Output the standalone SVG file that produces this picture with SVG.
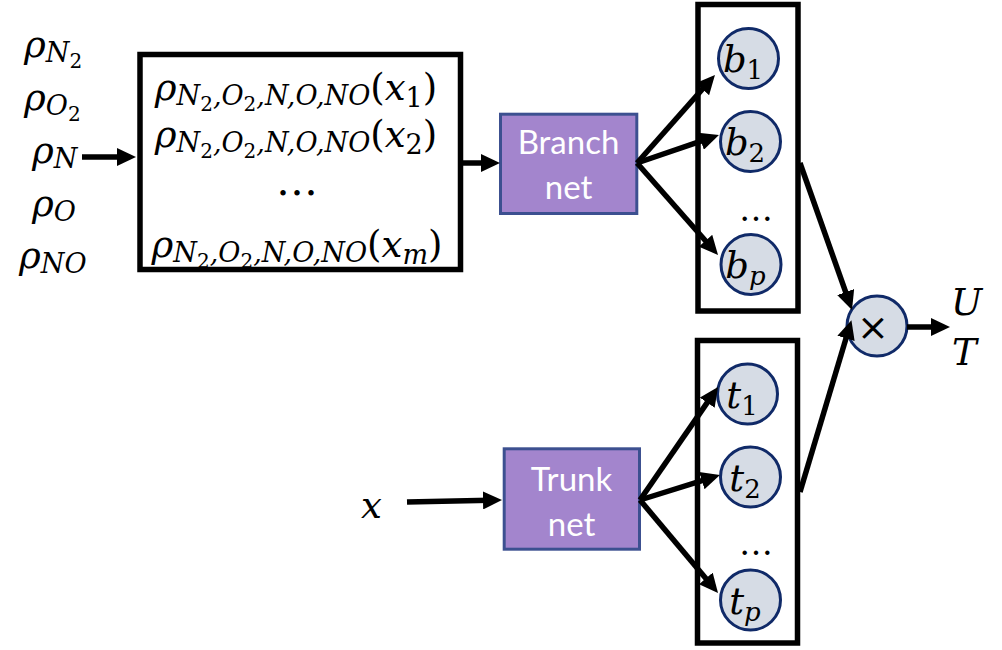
<svg xmlns="http://www.w3.org/2000/svg" width="1002" height="650" viewBox="0 0 1002 650">
<defs>
<style>
.m{font-family:"DejaVu Serif",serif;font-style:italic;font-size:37px;fill:#000}
.s{font-size:27px}
.ss{font-size:20px}
.up{font-style:normal}
.c{font-family:"DejaVu Serif",serif;font-style:italic;font-size:37px;fill:#000}
.cs{font-size:26px;font-style:normal}
.cp{font-size:26px}
.dots{font-family:"DejaVu Serif",serif;fill:#000}
.net{fill:#a385cd;stroke:#3c5090;stroke-width:3}
.nt{font-family:Lato,"Open Sans",sans-serif;font-size:33px;fill:#fff;text-anchor:middle}
.frame{fill:none;stroke:#000;stroke-width:5.5}
.node{fill:#d6dce5;stroke:#102a68;stroke-width:3}
.arr{stroke:#000;stroke-width:5.5;fill:none;marker-end:url(#ah)}
</style>
<marker id="ah" markerUnits="userSpaceOnUse" markerWidth="19" markerHeight="18" refX="7" refY="9" orient="auto">
<path d="M0,0 L19,9 L0,18 z" fill="#000"/>
</marker>
</defs>

<g id="inputs">
<text class="m" x="24" y="57">ρ<tspan class="s" dy="5">N</tspan><tspan class="ss up" dy="6">2</tspan></text>
<text class="m" x="24" y="110">ρ<tspan class="s" dy="5">O</tspan><tspan class="ss up" dy="6">2</tspan></text>
<text class="m" x="32" y="163">ρ<tspan class="s" dy="5">N</tspan></text>
<text class="m" x="32" y="216">ρ<tspan class="s" dy="5">O</tspan></text>
<text class="m" x="19" y="268">ρ<tspan class="s" dy="5">NO</tspan></text>
</g>

<g id="sample-box">
<rect class="frame" x="140" y="54.5" width="320.5" height="215"/>
<text class="m" x="296" y="100" text-anchor="middle">ρ<tspan class="s" dy="5">N</tspan><tspan class="ss up" dy="6">2</tspan><tspan class="s" dy="-6">,O</tspan><tspan class="ss up" dy="6">2</tspan><tspan class="s" dy="-6">,N,O,NO</tspan><tspan class="up" dy="-5">(</tspan>x<tspan class="s up" dy="7">1</tspan><tspan class="up" dy="-7">)</tspan></text>
<text class="m" x="296" y="147" text-anchor="middle">ρ<tspan class="s" dy="5">N</tspan><tspan class="ss up" dy="6">2</tspan><tspan class="s" dy="-6">,O</tspan><tspan class="ss up" dy="6">2</tspan><tspan class="s" dy="-6">,N,O,NO</tspan><tspan class="up" dy="-5">(</tspan>x<tspan class="s up" dy="7">2</tspan><tspan class="up" dy="-7">)</tspan></text>
<text class="dots" x="297" y="195" font-size="42" text-anchor="middle">…</text>
<text class="m" x="297" y="257" text-anchor="middle">ρ<tspan class="s" dy="5">N</tspan><tspan class="ss up" dy="6">2</tspan><tspan class="s" dy="-6">,O</tspan><tspan class="ss up" dy="6">2</tspan><tspan class="s" dy="-6">,N,O,NO</tspan><tspan class="up" dy="-5">(</tspan>x<tspan class="s" dy="7">m</tspan><tspan class="up" dy="-7">)</tspan></text>
</g>

<g id="branch-net">
<rect class="net" x="500.5" y="114.2" width="136.3" height="99.3"/>
<text class="nt" x="568.5" y="154">Branch</text>
<text class="nt" x="568.5" y="199">net</text>
</g>

<g id="trunk-input">
<text class="m" x="361" y="518" font-size="39">x</text>
</g>

<g id="trunk-net">
<rect class="net" x="504.2" y="448.8" width="135.3" height="100.4"/>
<text class="nt" x="571.5" y="491">Trunk</text>
<text class="nt" x="571.5" y="536">net</text>
</g>

<g id="branch-outputs">
<rect class="frame" x="698" y="4.5" width="100" height="306.5"/>
<circle class="node" cx="748.5" cy="58.5" r="30"/>
<text class="c" x="743" y="72" text-anchor="middle">b<tspan class="cs" dy="7">1</tspan></text>
<circle class="node" cx="750.5" cy="141.5" r="30"/>
<text class="c" x="745" y="155" text-anchor="middle">b<tspan class="cs" dy="7">2</tspan></text>
<text class="dots" x="756" y="221" font-size="34" text-anchor="middle">…</text>
<circle class="node" cx="751" cy="264.5" r="30"/>
<text class="c" x="745.5" y="278" text-anchor="middle">b<tspan class="cp" dy="7">p</tspan></text>
</g>

<g id="trunk-outputs">
<rect class="frame" x="697.5" y="340.5" width="100" height="302.5"/>
<circle class="node" cx="747.5" cy="394" r="30"/>
<text class="c" x="742" y="408" text-anchor="middle">t<tspan class="cs" dy="7">1</tspan></text>
<circle class="node" cx="750.5" cy="477" r="30"/>
<text class="c" x="745" y="491" text-anchor="middle">t<tspan class="cs" dy="7">2</tspan></text>
<text class="dots" x="756" y="555" font-size="34" text-anchor="middle">…</text>
<circle class="node" cx="750.5" cy="600" r="30"/>
<text class="c" x="745" y="614" text-anchor="middle">t<tspan class="cp" dy="7">p</tspan></text>
</g>

<g id="product">
<circle class="node" cx="877" cy="326" r="30"/>
<text x="873" y="340" font-family="DejaVu Sans, sans-serif" font-size="38" text-anchor="middle" fill="#000">×</text>
</g>

<g id="outputs">
<text class="m" x="951" y="315" font-size="39">U</text>
<text class="m" x="952" y="365" font-size="39">T</text>
</g>

<g id="connectors">
<line class="arr" x1="82" y1="157" x2="124" y2="157"/>
<line class="arr" x1="462" y1="163" x2="488" y2="163"/>
<line class="arr" x1="637" y1="163" x2="707" y2="84"/>
<line class="arr" x1="637" y1="163" x2="707.6" y2="138.9"/>
<line class="arr" x1="637" y1="163" x2="710.1" y2="246"/>
<line class="arr" x1="407" y1="502" x2="490" y2="500.3"/>
<line class="arr" x1="640" y1="500" x2="711.2" y2="396.9"/>
<line class="arr" x1="640" y1="500" x2="708.5" y2="478.6"/>
<line class="arr" x1="640" y1="500" x2="710.3" y2="583.8"/>
<line class="arr" x1="800" y1="163" x2="848" y2="298.7"/>
<line class="arr" x1="800" y1="492" x2="848" y2="331.7"/>
<line class="arr" x1="907" y1="327" x2="938" y2="327"/>
</g>
</svg>
